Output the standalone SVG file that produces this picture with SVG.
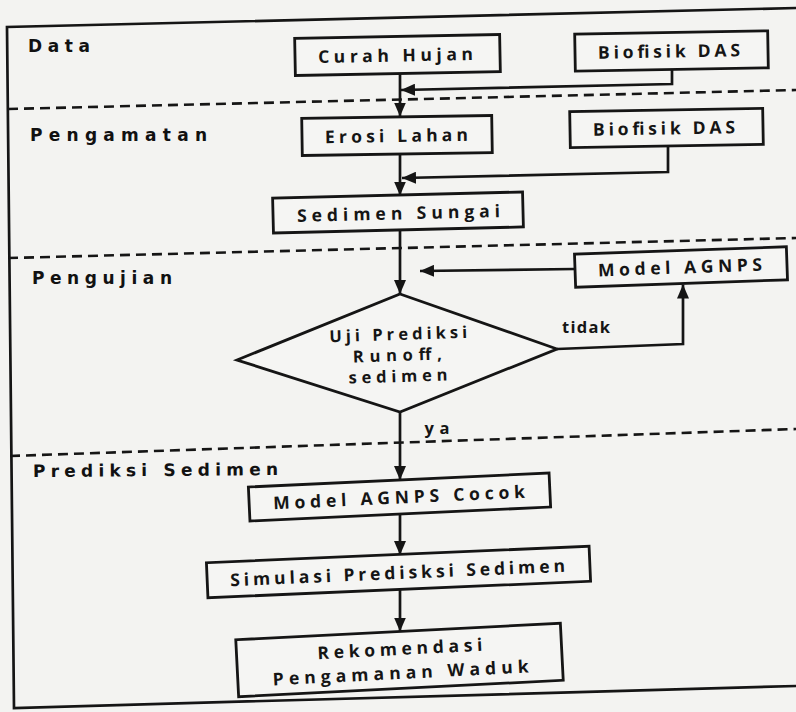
<svg xmlns="http://www.w3.org/2000/svg" width="796" height="712" viewBox="0 0 796 712">
<defs>
<marker id="ah" viewBox="0 0 14 12" refX="14" refY="6" markerWidth="14" markerHeight="12" markerUnits="userSpaceOnUse" orient="auto"><path d="M0,0 L14,6 L0,12 z" fill="#151515"/></marker>
<style>
.bg{fill:#f3f3f1}
.box{fill:#f5f5f3;stroke:#151515;stroke-width:2.8}
.ln{fill:none;stroke:#151515;stroke-width:2.7}
.dash{fill:none;stroke:#151515;stroke-width:2.6;stroke-dasharray:10 6}
.t{font-family:"Open Sans","Noto Sans","DejaVu Sans",sans-serif;font-weight:700;font-size:17.5px;fill:#151515;text-anchor:middle}
.d{font-family:"Open Sans","Noto Sans","DejaVu Sans",sans-serif;font-weight:700;font-size:16.5px;fill:#151515;text-anchor:middle}
.lab{font-family:"DejaVu Sans","Liberation Sans",sans-serif;font-weight:700;font-size:17px;fill:#111}
</style>
</defs>
<rect class="bg" x="0" y="0" width="796" height="712"/>
<g id="frame">
<path class="ln" d="M796,8 L7,27 L14,708 L796,686"/>
<path class="dash" d="M8,109 L796,90"/>
<path class="dash" d="M8,258 L796,238"/>
<path class="dash" d="M10,456 L796,429"/>
</g>
<g id="labels">
<text class="lab" x="28" y="52" textLength="62" lengthAdjust="spacing">Data</text>
<text class="lab" x="30" y="141" textLength="177" lengthAdjust="spacing">Pengamatan</text>
<text class="lab" x="32" y="284" textLength="140" lengthAdjust="spacing">Pengujian</text>
<text class="lab" x="33" y="476" textLength="245" lengthAdjust="spacing" transform="rotate(-0.5 155 475)">Prediksi Sedimen</text>
</g>
<g id="connectors">
<path class="ln" d="M400,74 L400,116.5" marker-end="url(#ah)"/>
<path class="ln" d="M672,69 L672,84 L401,90" marker-end="url(#ah)"/>
<path class="ln" d="M400,154 L400,195.5" marker-end="url(#ah)"/>
<path class="ln" d="M668,145 L668,172 L402,178" marker-end="url(#ah)"/>
<path class="ln" d="M400,230 L400,294" marker-end="url(#ah)"/>
<path class="ln" d="M575,269 L420,271" marker-end="url(#ah)"/>
<path class="ln" d="M557,349 L683,344 L683,284.5" marker-end="url(#ah)"/>
<path class="ln" d="M400,412 L400,480" marker-end="url(#ah)"/>
<path class="ln" d="M400,513 L400,555" marker-end="url(#ah)"/>
<path class="ln" d="M400,590 L400,631.5" marker-end="url(#ah)"/>
<text class="d" x="586" y="333" textLength="48" lengthAdjust="spacing">tidak</text>
<text class="d" x="437" y="434" textLength="25" lengthAdjust="spacing">ya</text>
</g>
<g id="curah-hujan" transform="rotate(-1.1 397.5 55)">
<rect class="box" x="295" y="36.5" width="205" height="37"/>
<text class="t" x="395.5" y="61.5" textLength="155" lengthAdjust="spacing">Curah Hujan</text>
</g>
<g id="biofisik-das-1" transform="rotate(-1 671.5 51)">
<rect class="box" x="575" y="32.5" width="193" height="37"/>
<text class="t" x="669" y="57.5" textLength="142" lengthAdjust="spacing">Biofisik DAS</text>
</g>
<g id="erosi-lahan" transform="rotate(-0.9 397 135.5)">
<rect class="box" x="302" y="117" width="190" height="37"/>
<text class="t" x="396.5" y="142" textLength="143" lengthAdjust="spacing">Erosi Lahan</text>
</g>
<g id="biofisik-das-2" transform="rotate(-1 666.5 128)">
<rect class="box" x="570" y="110" width="193" height="36"/>
<text class="t" x="664" y="134.5" textLength="142" lengthAdjust="spacing">Biofisik DAS</text>
</g>
<g id="sedimen-sungai" transform="rotate(-1.4 398 212.5)">
<rect class="box" x="273" y="195" width="250" height="35"/>
<text class="t" x="398.5" y="219.5" textLength="203" lengthAdjust="spacing">Sedimen Sungai</text>
</g>
<g id="model-agnps" transform="rotate(-2 681 267)">
<rect class="box" x="575" y="250.5" width="212" height="33"/>
<text class="t" x="680" y="273.5" textLength="164" lengthAdjust="spacing">Model AGNPS</text>
</g>
<g id="uji-prediksi">
<polygon class="box" points="400,294 557,349 400,412 237,360"/>
<g transform="rotate(-1.8 398 360)">
<text class="d" x="399" y="340" textLength="138" lengthAdjust="spacing">Uji Prediksi</text>
<text class="d" x="397.5" y="361" textLength="89" lengthAdjust="spacing">Runoff,</text>
<text class="d" x="397.5" y="382" textLength="99" lengthAdjust="spacing">sedimen</text>
</g>
</g>
<g id="model-agnps-cocok" transform="rotate(-2.66 399.5 497)">
<rect class="box" x="249" y="480" width="301" height="34"/>
<text class="t" x="399" y="503.5" textLength="252" lengthAdjust="spacing">Model AGNPS Cocok</text>
</g>
<g id="simulasi" transform="rotate(-2.47 398.5 572)">
<rect class="box" x="207" y="554.5" width="383" height="35"/>
<text class="t" x="397.5" y="579" textLength="335" lengthAdjust="spacing">Simulasi Predisksi Sedimen</text>
</g>
<g id="rekomendasi" transform="rotate(-2.9 399.5 660)">
<rect class="box" x="237" y="631.5" width="325" height="57"/>
<text class="t" x="400.5" y="655" textLength="165" lengthAdjust="spacing">Rekomendasi</text>
<text class="t" x="400" y="679" textLength="256" lengthAdjust="spacing">Pengamanan Waduk</text>
</g>
</svg>
